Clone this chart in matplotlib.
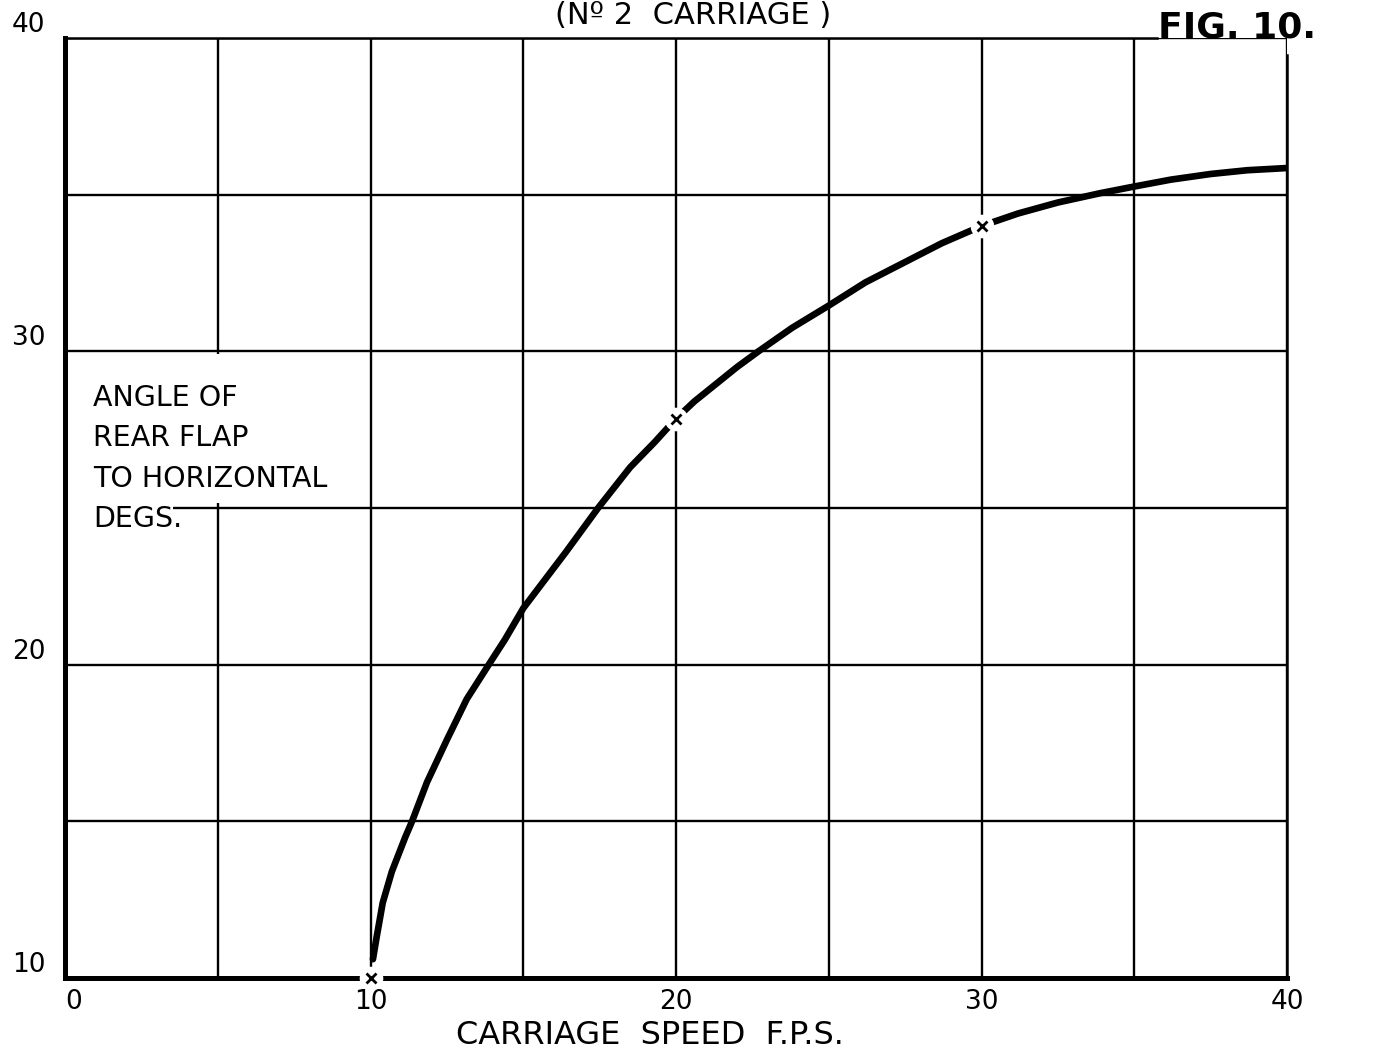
import matplotlib.pyplot as plt
from matplotlib.patches import Rectangle

# curve
speed = [10.08, 10.2, 10.4, 10.7, 11.14, 11.36, 11.85, 12.5, 13.15, 13.87, 14.4, 15.0,
         15.7, 16.4, 17.45, 18.5, 19.3, 20.0, 20.6, 21.3, 22.0, 22.7, 23.8, 25.0,
         26.2, 27.5, 28.7, 30.0, 31.2, 32.5, 33.9, 35.0, 36.2, 37.5, 38.7, 40.0]
angle = [10.6, 11.3, 12.4, 13.4, 14.5, 15.0, 16.25, 17.6, 18.9, 20.0, 20.8, 21.8,
         22.7, 23.6, 25.0, 26.3, 27.1, 27.85, 28.4, 28.95, 29.5, 30.0, 30.75, 31.46,
         32.2, 32.85, 33.45, 34.0, 34.4, 34.75, 35.05, 35.26, 35.48, 35.66, 35.78, 35.85]

# plotted test points
pt_speed = [10, 20, 30]
pt_angle = [10, 27.85, 34.0]

x_ticks = [0, 5, 10, 15, 20, 25, 30, 35, 40]
x_labels = ['0', '', '10', '', '20', '', '30', '', '40']
y_ticks = [10, 15, 20, 25, 30, 35, 40]
y_labels = ['10', '', '20', '', '30', '', '40']
ylabel_lines = ['ANGLE OF', 'REAR FLAP', 'TO HORIZONTAL', 'DEGS.']

W, H = 1390, 1054
fig = plt.figure(figsize=(W / 100, H / 100), dpi=100)
ax = fig.add_axes([65 / W, 1 - 978 / H, (1287 - 65) / W, (978 - 38) / H])
ax.set_xlim(0, 40)
ax.set_ylim(10, 40)

ax.set_xticks(x_ticks)
ax.set_xticklabels(x_labels, fontsize=19)
ax.set_yticks(y_ticks)
ax.set_yticklabels(y_labels, fontsize=19)
ax.tick_params(length=0)
ax.tick_params(axis='x', pad=8)
ax.tick_params(axis='y', pad=14)
for lab in ax.get_yticklabels():
    lab.set_verticalalignment('bottom')
ax.get_xticklabels()[0].set_horizontalalignment('left')

ax.grid(True, color='black', linewidth=1.7)
ax.set_axisbelow(True)

ax.spines['left'].set_linewidth(3.6)
ax.spines['bottom'].set_linewidth(3.6)
ax.spines['top'].set_linewidth(1.8)
ax.spines['right'].set_linewidth(1.8)
ax.spines['top'].set_bounds(0, 35.75)
ax.spines['right'].set_bounds(10, 39.45)

# blank panel behind the axis caption
ax.add_patch(Rectangle((0.05, 25.15), 8.8, 4.78, facecolor='white', edgecolor='none', zorder=1.5))
ax.add_patch(Rectangle((0.05, 23.9), 3.5, 1.4, facecolor='white', edgecolor='none', zorder=1.5))
for i, s in enumerate(ylabel_lines):
    ax.text(0.92, 28.5 - i * 1.28, s, fontsize=20.5, va='center', ha='left', zorder=3)

ax.plot(speed, angle, color='black', linewidth=4.8, solid_capstyle='round',
        solid_joinstyle='round', zorder=4)
ax.plot(pt_speed, pt_angle, linestyle='none', marker='o', markersize=17,
        markerfacecolor='white', markeredgecolor='none', zorder=5, clip_on=False)
ax.plot(pt_speed, pt_angle, linestyle='none', marker='x', markersize=7,
        markeredgewidth=2.0, color='black', zorder=6, clip_on=False)

fig.text(693 / W, 1 - 24 / H, '(Nº 2  CARRIAGE )', fontsize=22, ha='center', va='baseline')
fig.text(1158 / W, 1 - 38 / H, 'FIG. 10.', fontsize=26, fontweight='bold', ha='left', va='baseline')
fig.text(650 / W, 1 - 1036 / H, 'CARRIAGE  SPEED  F.P.S.', fontsize=23, ha='center', va='center')

fig.savefig('out.png', dpi=100)
